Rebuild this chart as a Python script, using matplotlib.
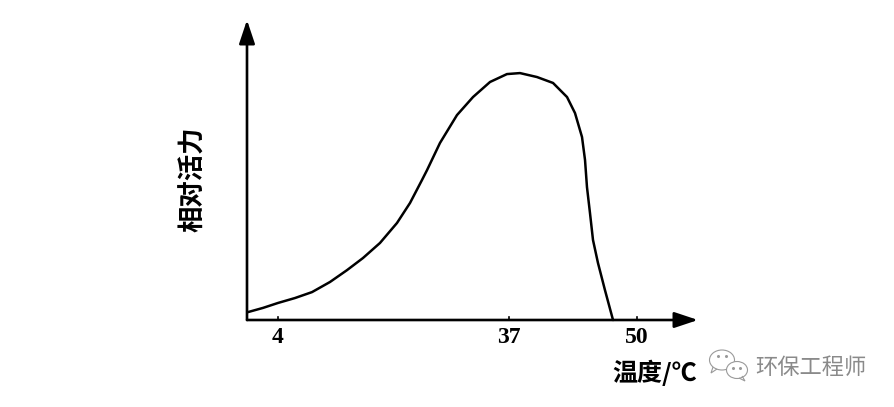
import matplotlib.pyplot as plt
from matplotlib.patches import Ellipse, Polygon

# 曲线数据（温度, 相对活力）
temp = [-0.29, 1.86, 4.0, 6.43, 8.86, 11.43, 13.86, 16.14, 18.57, 21.0, 22.86,
        24.57, 25.29, 27.14, 29.57, 31.86, 34.29, 36.71, 38.57, 41.0, 43.29,
        45.29, 46.43, 47.43, 47.86, 48.14, 48.57, 49.0, 49.71, 50.71, 51.86]
activity = [3.2, 4.9, 6.9, 8.9, 11.3, 15.4, 20.2, 25.1, 31.2, 39.3, 47.4,
            56.7, 60.7, 71.7, 83.0, 90.3, 96.4, 99.6, 100.0, 98.4, 96.0,
            90.3, 83.8, 74.1, 64.8, 53.8, 43.3, 32.4, 23.1, 12.1, 0.0]

tick_labels = ['4', '37', '50']
tick_pos = [4, 37, 55.3]   # 原图刻度间距不均匀，按画面位置放

W, H = 894, 407
fig = plt.figure(figsize=(W / 100, H / 100), dpi=100)
fig.patch.set_facecolor('white')

# 主坐标轴（像素位置：y轴 x=247，x轴 y=320）
ax = fig.add_axes([247 / W, (H - 320) / H, 451 / W, 300 / H])
ax.set_xlim(-0.4286, 64)
ax.set_ylim(0, 121.5)
for s in ax.spines.values():
    s.set_visible(False)
ax.set_xticks([])
ax.set_yticks([])
ax.patch.set_alpha(0)

ax.plot(temp, activity, color='black', lw=1.8, solid_joinstyle='round',
        solid_capstyle='round', clip_on=False)

arrow = dict(arrowstyle='-|>,head_length=0.9,head_width=0.3', lw=1.9,
             color='black', mutation_scale=16, shrinkA=0, shrinkB=0)
ax.annotate('', xy=(1, 0), xytext=(0, 0), xycoords='axes fraction',
            arrowprops=arrow)
ax.annotate('', xy=(0, 1), xytext=(0, 0), xycoords='axes fraction',
            arrowprops=arrow)

# 小刻度
for p in tick_pos:
    ax.plot([p, p], [0, 1.3], color='black', lw=1.2, clip_on=False)

for p, lab in zip(tick_pos, tick_labels):
    ax.text(p, -3, lab, ha='center', va='top', fontsize=17,
            family=['Liberation Serif'], weight='bold')

ax.text(-8.0, 57, '相对活力', rotation=90, ha='center', va='center',
        fontsize=19, family=['Noto Sans CJK SC', 'DejaVu Sans'], weight='bold')

fig.text(655 / W, 1 - 373 / H, '温度/℃', ha='center', va='center',
         fontsize=18, family=['Noto Sans CJK SC', 'DejaVu Sans'], weight='bold')

# 水印
fig.text(811 / W, 1 - 367 / H, '环保工程师', ha='center', va='center',
         fontsize=16, color='#8a8a8a', family=['Noto Sans CJK SC', 'DejaVu Sans'])

ov = fig.add_axes([0, 0, 1, 1])
ov.set_xlim(0, W)
ov.set_ylim(H, 0)
ov.axis('off')
ov.patch.set_alpha(0)
gray = '#9a9a9a'
ov.add_patch(Ellipse((722, 360), 25, 20, fill=False, ec=gray, lw=0.8))
ov.add_patch(Polygon([[713, 367], [711, 373], [717, 369]], closed=False,
                     fill=False, ec=gray, lw=0.8))
ov.add_patch(Ellipse((737, 370), 21, 17, fc='white', ec=gray, lw=0.8))
ov.add_patch(Polygon([[742, 376], [745, 381], [739, 378]], closed=False,
                     fill=False, ec=gray, lw=0.8))
for cx, cy in [(718, 356), (726, 356), (733, 368), (740, 368)]:
    ov.plot(cx, cy, 'o', ms=1.2, color=gray)

fig.savefig('out.png', dpi=100)
